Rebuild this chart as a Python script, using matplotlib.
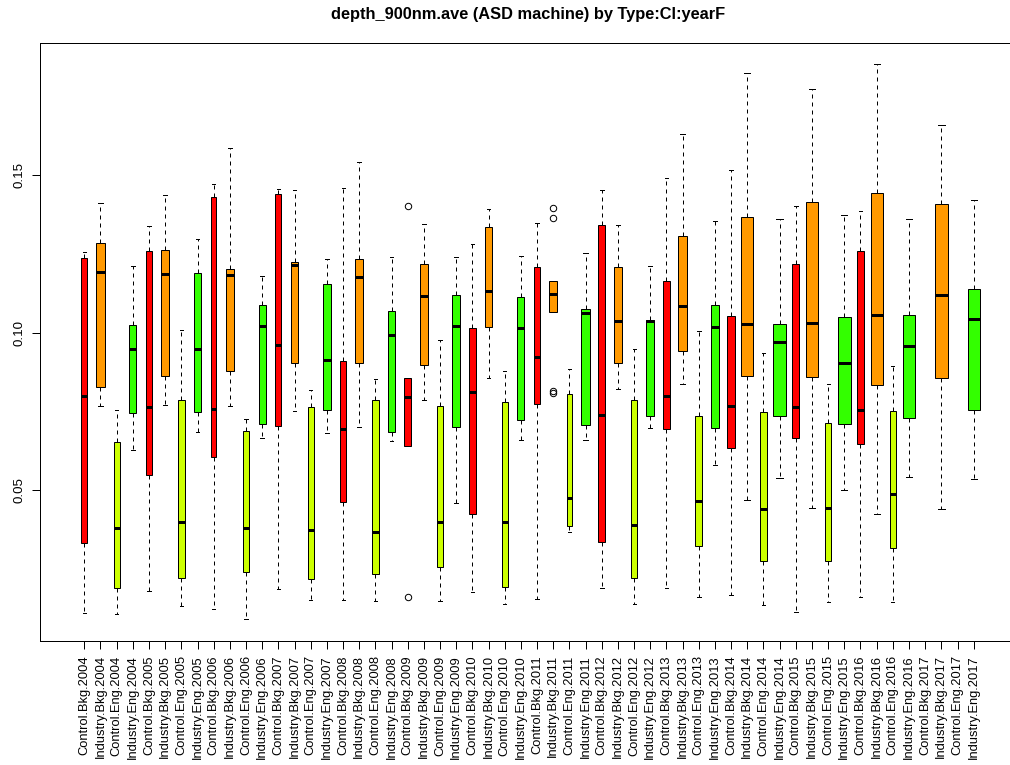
import matplotlib
matplotlib.use("Agg")
import matplotlib.pyplot as plt
import numpy as np

plt.rcParams['font.family'] = ['Liberation Sans', 'DejaVu Sans']

# ---------------- data ----------------
years = list(range(2004, 2018))
groups = ["Control.Bkg", "Industry.Bkg", "Control.Eng", "Industry.Eng"]
group_colors = {"Control.Bkg": "#FF0000", "Industry.Bkg": "#FF9900",
                "Control.Eng": "#CCFF00", "Industry.Eng": "#33FF00"}
labels = [f"{g}.{y}" for y in years for g in groups]

# five-number summaries per group (None = no data for that group)
whisker_low = [0.0113, 0.0768, 0.0108, 0.0628,  0.0183, 0.0772, 0.0133, 0.0686,
               0.0123, 0.0767, 0.0092, 0.0665,  0.0187, 0.0752, 0.0152, 0.0681,
               0.0152, 0.0702, 0.0150, 0.0658,  0.0641, 0.0788, 0.0150, 0.0461,
               0.0177, 0.0855, 0.0140, 0.0660,  0.0155, 0.1065, 0.0369, 0.0660,
               0.0191, 0.0822, 0.0140, 0.0697,  0.0190, 0.0838, 0.0162, 0.0580,
               0.0168, 0.0469, 0.0138, 0.0538,  0.0114, 0.0445, 0.0148, 0.0501,
               0.0163, 0.0427, 0.0146, 0.0542,  None,   0.0442, None,   0.0537]
q1 =          [0.0335, 0.0827, 0.0191, 0.0745,  0.0548, 0.0864, 0.0223, 0.0748,
               0.0605, 0.0880, 0.0241, 0.0710,  0.0704, 0.0903, 0.0218, 0.0755,
               0.0463, 0.0903, 0.0234, 0.0686,  0.0641, 0.0899, 0.0257, 0.0700,
               0.0427, 0.1017, 0.0195, 0.0723,  0.0773, 0.1065, 0.0387, 0.0706,
               0.0337, 0.0903, 0.0223, 0.0735,  0.0694, 0.0943, 0.0325, 0.0697,
               0.0635, 0.0864, 0.0275, 0.0737,  0.0665, 0.0861, 0.0276, 0.0711,
               0.0648, 0.0834, 0.0317, 0.0730,  None,   0.0855, None,   0.0756]
median =      [0.0798, 0.1193, 0.0382, 0.0948,  0.0763, 0.1185, 0.0401, 0.0948,
               0.0757, 0.1184, 0.0382, 0.1022,  0.0961, 0.1214, 0.0374, 0.0913,
               0.0696, 0.1178, 0.0367, 0.0992,  0.0795, 0.1117, 0.0399, 0.1021,
               0.0811, 0.1133, 0.0401, 0.1015,  0.0923, 0.1122, 0.0476, 0.1062,
               0.0740, 0.1038, 0.0390, 0.1036,  0.0798, 0.1085, 0.0467, 0.1019,
               0.0768, 0.1029, 0.0440, 0.0969,  0.0766, 0.1032, 0.0444, 0.0905,
               0.0756, 0.1055, 0.0489, 0.0959,  None,   0.1121, None,   0.1045]
q3 =          [0.1238, 0.1284, 0.0653, 0.1025,  0.1258, 0.1261, 0.0787, 0.1189,
               0.1430, 0.1202, 0.0688, 0.1088,  0.1439, 0.1224, 0.0763, 0.1155,
               0.0910, 0.1233, 0.0787, 0.1070,  0.0855, 0.1217, 0.0769, 0.1120,
               0.1015, 0.1336, 0.0779, 0.1112,  0.1207, 0.1163, 0.0806, 0.1075,
               0.1341, 0.1207, 0.0786, 0.1039,  0.1165, 0.1305, 0.0737, 0.1087,
               0.1053, 0.1368, 0.0750, 0.1029,  0.1217, 0.1413, 0.0714, 0.1049,
               0.1259, 0.1442, 0.0751, 0.1055,  None,   0.1408, None,   0.1138]
whisker_high = [0.1257, 0.1410, 0.0754, 0.1211,  0.1339, 0.1437, 0.1008, 0.1297,
                0.1471, 0.1586, 0.0727, 0.1181,  0.1455, 0.1452, 0.0819, 0.1235,
                0.1460, 0.1542, 0.0852, 0.1240,  0.0855, 0.1344, 0.0976, 0.1240,
                0.1281, 0.1393, 0.0880, 0.1244,  0.1348, 0.1163, 0.0886, 0.1253,
                0.1452, 0.1342, 0.0947, 0.1212,  0.1489, 0.1629, 0.1004, 0.1353,
                0.1516, 0.1824, 0.0936, 0.1359,  0.1402, 0.1772, 0.0838, 0.1372,
                0.1386, 0.1851, 0.0895, 0.1360,  None,   0.1657, None,   0.1422]
# number of observations per group (drives box width, varwidth style)
n_obs = [9, 16, 9, 12,   9, 14, 12, 14,   7, 16, 10, 12,   9, 14, 9, 15,
         9, 16, 10, 12,  10, 14, 10, 14,  10, 13, 9, 12,   10, 15, 8, 18,
         12, 14, 9, 14,  12, 18, 13, 16,  14, 34, 13, 40,  12, 38, 10, 38,
         10, 34, 10, 38,  0, 40, 0, 34]
outliers = {"Control.Bkg.2009": [0.1400, 0.0163],
            "Industry.Bkg.2011": [0.1396, 0.1363, 0.0815, 0.0808]}

y_ticks = [0.05, 0.10, 0.15]
y_tick_labels = ["0.05", "0.10", "0.15"]
title = "depth_900nm.ave (ASD machine) by Type:Cl:yearF"

# ---------------- figure ----------------
W, H = 1010, 765
fig = plt.figure(figsize=(W / 100, H / 100), dpi=100)
ax = fig.add_axes([40 / W, 124.3 / H, 978 / W, 598 / H])

px = 0.72  # one pixel in points
positions_all = np.arange(1, len(labels) + 1)
nmax = max(n_obs)

stats, pos, widths, colors = [], [], [], []
for i, lab in enumerate(labels):
    if median[i] is None:
        continue
    stats.append(dict(med=median[i], q1=q1[i], q3=q3[i],
                      whislo=whisker_low[i], whishi=whisker_high[i],
                      fliers=outliers.get(lab, [])))
    pos.append(positions_all[i])
    widths.append(0.8 * np.sqrt(n_obs[i]) / np.sqrt(nmax))
    colors.append(group_colors[lab.rsplit(".", 1)[0]])

widths = np.array(widths)
bp = ax.bxp(stats, positions=pos, widths=widths, capwidths=0.5 * widths,
            patch_artist=True, showfliers=True,
            boxprops=dict(edgecolor="black", linewidth=px),
            medianprops=dict(color="black", linewidth=3 * px, solid_capstyle="butt"),
            whiskerprops=dict(color="black", linewidth=px, linestyle=(0, (4, 4))),
            capprops=dict(color="black", linewidth=px),
            flierprops=dict(marker="o", markerfacecolor="none", markeredgecolor="black",
                            markersize=4.6, markeredgewidth=px))
for patch, c in zip(bp["boxes"], colors):
    patch.set_facecolor(c)

ax.set_xlim(-1.74, 58.74)
ax.set_ylim(0.0024, 0.1919)

ax.set_xticks(positions_all)
ax.set_xticklabels(labels, rotation=90, fontsize=9.3)
ax.set_yticks(y_ticks)
ax.set_yticklabels(y_tick_labels, rotation=90, va="center", fontsize=9.6)
ax.tick_params(axis="both", length=6, width=px, color="black")
ax.tick_params(axis="x", pad=4.5)
ax.tick_params(axis="y", pad=4.5)

for sp in ax.spines.values():
    sp.set_linewidth(px)
    sp.set_color("black")

fig.text(528.5 / W, 1 - 14 / H, title, ha="center", va="center",
         fontsize=11.8, fontweight="bold")

fig.savefig("out.png", dpi=100)
